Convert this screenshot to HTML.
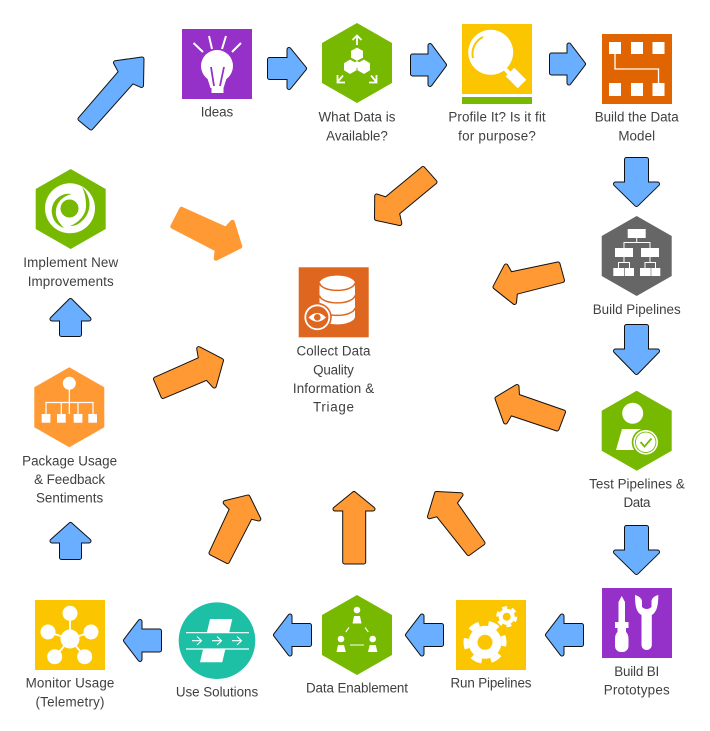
<!DOCTYPE html>
<html><head><meta charset="utf-8"><style>
html,body{margin:0;padding:0;background:#fff}
svg{display:block}
text{font-family:"Liberation Sans",sans-serif;font-size:13.4px;fill:#404040;text-anchor:middle}
</style></head><body>
<svg width="710" height="731" viewBox="0 0 710 731" xmlns="http://www.w3.org/2000/svg">
<defs>
<g id="bl">
<polygon points="80,119 120.500,72 115.500,62.700 142,59 141.500,85.500 132.500,81.500 91,128"/>
<polygon points="269.500,59.500 289,59.500 289,49.500 304.500,68.500 289,87.500 289,77.500 269.500,77.500"/>
<polygon points="412.500,56 430,56 430,45.500 444.500,65 430,84.500 430,74 412.500,74"/>
<polygon points="551.500,55 569,55 569,45 583.500,64 569,83 569,73 551.500,73"/>
<polygon points="626.500,159.500 646.500,159.500 646.500,184 657.500,184 636.500,204.500 615.500,184 626.500,184"/>
<polygon points="626.500,326.500 646.500,326.500 646.500,351 657.500,351 636.500,372.500 615.500,351 626.500,351"/>
<polygon points="626.500,527.500 646.500,527.500 646.500,552 657.500,552 636.500,572.500 615.500,552 626.500,552"/>
<polygon points="581.500,625.500 562,625.500 562,616 547.500,635 562,654 562,644.500 581.500,644.500"/>
<polygon points="441.500,625.500 422,625.500 422,616 407.500,635 422,654 422,644.500 441.500,644.500"/>
<polygon points="309.500,625.500 290,625.500 290,616 275.500,635 290,654 290,644.500 309.500,644.500"/>
<polygon points="159.500,631 140,631 140,621.500 125.500,640.500 140,659.500 140,650 159.500,650"/>
<polygon points="61.500,334.500 79.500,334.500 79.500,319 89,319 70.500,300.500 52,319 61.500,319"/>
<polygon points="61.500,557.500 79.500,557.500 79.500,541 89,541 70.500,524.500 52,541 61.500,541"/>
</g>
<g id="or">
<polygon points="423,168.500 435,182 397.500,213 399.800,223.500 376.500,218.500 376.700,196 386,199"/>
<polygon points="558,264 562.500,280.500 515.500,292.500 514.500,302.500 495,287 506,266 510.500,274"/>
<polygon points="563.500,412 557,429 510.500,413.500 505.500,422 497,398.500 517,386.500 517.500,396"/>
<polygon points="211,553 227.500,561.500 250.500,517 258.800,519 248,497 225.200,502.600 231.500,509"/>
<polygon points="344.700,562 363.700,562 363.700,509 373,509 354,493.500 335,509 344.700,509"/>
<polygon points="483,543 468.500,553.500 437.500,514.500 429.500,516.700 436.500,493.500 461,494.800 455,503"/>
<polygon points="155.500,379 163,396.500 207,378 214.300,386 221.500,360.500 198.700,348.600 200.500,359"/>
</g>
</defs>
<polygon points="181.500,209 172.500,226.500 217,249.500 216,258.500 240,246.500 232.500,222 226,229" fill="#ff9933" stroke="#ff9933" stroke-width="4.500" stroke-linejoin="round"/>
<use href="#bl" fill="#111" stroke="#111" stroke-width="5" stroke-linejoin="round"/>
<use href="#bl" fill="#6aaeff" stroke="#6aaeff" stroke-width="3" stroke-linejoin="round"/>
<use href="#or" fill="#111" stroke="#111" stroke-width="5" stroke-linejoin="round"/>
<use href="#or" fill="#ff9933" stroke="#ff9933" stroke-width="3" stroke-linejoin="round"/>

<!-- Ideas -->
<rect x="182" y="29" width="70" height="70" fill="#9530c8"/>
<path d="M193.500,43 L203,52 M209,36 L212,49 M226,36 L222,49 M241,43 L232,52" stroke="#fff" stroke-width="2" fill="none"/>
<circle cx="217" cy="66" r="16" fill="#fff"/>
<polygon points="206,74 228,74 223.500,88 210.500,88" fill="#fff"/>
<rect x="211.500" y="87" width="12" height="6" fill="#fff"/>
<path d="M211,67 L214,86 M224,67 L220,86" stroke="#9530c8" stroke-width="1.800" fill="none"/>

<!-- What data -->
<polygon points="357,23 392,43 392,83 357,103 322,83 322,43" fill="#76b900"/>
<g fill="#fff" stroke="#76b900" stroke-width="1">
<polygon points="357,47 363.500,50.500 363.500,58 357,61.500 350.500,58 350.500,50.500"/>
<polygon points="350,59 357,63 357,70.500 350,74.500 343.500,70.500 343.500,63"/>
<polygon points="364,59 370.500,63 370.500,70.500 364,74.500 357,70.500 357,63"/>
</g>
<polygon points="357,61 363,64.500 357,68 351,64.500" fill="#fff"/>
<path d="M357,45 V36 M352.500,40 L357,35.500 L361.500,40 M343,75.500 L337.500,82 M337.500,75 V82.500 H345 M371,75.500 L376.500,82 M376.500,75 V82.500 H369" stroke="#fff" stroke-width="1.800" fill="none"/>

<!-- Profile -->
<rect x="462" y="24" width="70" height="70" fill="#fbc500"/>
<rect x="462" y="97" width="70" height="7" fill="#76b900"/>
<circle cx="490.700" cy="52.300" r="22.500" fill="#fff"/>
<path d="M473,58 A18.500,18.500 0 0 1 483,37" stroke="#fbc500" stroke-width="2" fill="none"/>
<path d="M505,69 L512,76" stroke="#fff" stroke-width="4"/>
<path d="M510,72 L522,84" stroke="#fff" stroke-width="12"/>

<!-- Build data model -->
<rect x="602" y="34" width="70" height="70" fill="#e06500"/>
<g fill="#fff">
<rect x="609" y="42" width="12" height="12"/><rect x="631" y="42" width="12" height="12"/><rect x="652.500" y="42" width="12" height="12"/>
<rect x="609" y="83" width="12" height="13"/><rect x="631" y="83" width="12" height="13"/><rect x="652.500" y="83" width="12" height="13"/>
</g>
<path d="M615,54 V69 H658.500 V83" stroke="#fff" stroke-width="1.300" fill="none"/>

<!-- Build pipelines -->
<polygon points="636.700,216 671.700,236 671.700,276 636.700,296 601.700,276 601.700,236" fill="#666"/>
<g fill="#fff">
<rect x="627.700" y="229" width="18" height="9"/>
<rect x="615" y="248" width="18" height="9"/><rect x="641" y="248" width="18" height="9"/>
<rect x="613.300" y="268" width="11" height="8"/><rect x="625" y="268" width="9" height="8"/><rect x="640" y="268" width="10.700" height="8"/><rect x="651.300" y="268" width="9" height="8"/>
</g>
<path d="M636.700,238 V242.500 M624,248 V242.500 H650 V248 M624,257 V262.500 M618.500,268 V262.500 H629.500 V268 M650,257 V262.500 M645,268 V262.500 H655.500 V268" stroke="#fff" stroke-width="1" fill="none"/>

<!-- Test pipelines -->
<polygon points="636.700,390.700 671.700,410.700 671.700,450.700 636.700,470.700 601.700,450.700 601.700,410.700" fill="#76b900"/>
<circle cx="632.700" cy="413.300" r="10.500" fill="#fff"/>
<polygon points="622,429 645,429 647,450 616,450" fill="#fff"/>
<circle cx="645.700" cy="442.300" r="14" fill="#76b900"/>
<circle cx="645.700" cy="442.300" r="12.300" fill="#fff"/>
<circle cx="645.700" cy="442.300" r="10.700" fill="#76b900"/>
<circle cx="645.700" cy="442.300" r="9.800" fill="#fff"/>
<path d="M640.500,442 L644.500,446.500 L651.500,438.500" stroke="#76b900" stroke-width="1.800" fill="none"/>

<!-- Build BI -->
<rect x="602" y="588" width="70" height="70" fill="#9530c8"/>
<g fill="#fff">
<polygon points="621.700,596 625,602 625,622 618.500,622 618.500,602"/>
<path d="M615,622 H628.500 V628 H626 V632 C628,634 628.500,636 628.500,640 V646 A6,6 0 0 1 622.500,652 H621 A6,6 0 0 1 615,646 V640 C615,636 615.500,634 617.500,632 V628 H615 Z"/>
<path d="M635,595 C635,605 636,612 641.500,615 V645.500 A5.200,5.200 0 0 0 651.800,645.500 V615 C657,612 658.300,605 658.300,595 C654.500,596 652,598 651.500,601 V607 Q646.700,611 642,607 V601 C641.500,598 638.500,596 635,595 Z"/>
</g>

<!-- Run pipelines -->
<rect x="456" y="600" width="70" height="70" fill="#fbc500"/>
<circle cx="485" cy="642.300" r="16.500" fill="#fff"/>
<circle cx="485" cy="642.300" r="19" fill="none" stroke="#fff" stroke-width="5" stroke-dasharray="10.500 9.400" transform="rotate(-20 485 642.300)"/>
<circle cx="485" cy="642.300" r="7.500" fill="#fbc500"/>
<circle cx="506.700" cy="616.700" r="8" fill="#fff"/>
<circle cx="506.700" cy="616.700" r="9.200" fill="none" stroke="#fff" stroke-width="2.800" stroke-dasharray="5 4.630"/>
<circle cx="506.700" cy="616.700" r="4" fill="#fbc500"/>

<!-- Data enablement -->
<polygon points="357,595 392,615 392,655 357,675 322,655 322,615" fill="#76b900"/>
<g fill="#fff">
<circle cx="357" cy="610" r="3.300"/><polygon points="354,616 360,616 361.500,623.500 352.500,623.500"/>
<circle cx="341" cy="639" r="3.300"/><polygon points="338,645 344,645 345.800,652 336.500,652"/>
<circle cx="372.700" cy="639" r="3.300"/><polygon points="369.700,645 375.700,645 377.400,652 368,652"/>
</g>
<path d="M345.700,632 L349,627.500 M365,627.500 L368.300,632 M350,645 H364" stroke="#fff" stroke-width="1.100" fill="none"/>

<!-- Use solutions -->
<circle cx="217" cy="640.700" r="38.300" fill="#1dbfa5"/>
<polygon points="210,619 232.300,619 222.300,662.300 200,662.300" fill="#fff"/>
<rect x="186" y="633" width="63" height="16" fill="#1dbfa5"/>
<path d="M186,632.700 H249 M186,649 H249" stroke="#fff" stroke-width="1.200"/>
<g stroke="#fff" stroke-width="1.100" fill="none">
<path d="M192,640.700 H201 M197,636.500 L201.500,640.700 L197,645"/>
<path d="M212,640.700 H221 M217,636.500 L221.500,640.700 L217,645"/>
<path d="M232,640.700 H241 M237,636.500 L241.500,640.700 L237,645"/>
</g>

<!-- Monitor usage -->
<rect x="35" y="600" width="70" height="70" fill="#fbc500"/>
<path d="M70,639 L70,613 M70,639 L48,632 M70,639 L91,632 M70,639 L55,657 M70,639 L85,657" stroke="#fff" stroke-width="1.800"/>
<g fill="#fff">
<circle cx="70" cy="639" r="9.500"/>
<circle cx="70" cy="613.300" r="7.500"/><circle cx="48" cy="632" r="7.500"/><circle cx="91" cy="632" r="7.500"/>
<circle cx="54.700" cy="656.700" r="7.500"/><circle cx="84.700" cy="656.700" r="7.500"/>
</g>

<!-- Implement -->
<polygon points="70.700,169 105.700,189 105.700,229 70.700,249 35.700,229 35.700,189" fill="#76b900"/>
<circle cx="70" cy="208.300" r="25" fill="#fff"/>
<circle cx="69.500" cy="208.500" r="9" fill="#76b900"/>
<path d="M72,194 C60,192 50,202 52,214 C53,221 58,226 64,228 C58,222 55,216 56,210 C57,202 63,196 72,194 Z" fill="#76b900"/>
<path d="M82,187 C92,197 92,212 82,221 C78,225 74,226 70,226 C80,222 86,214 86,206 C86,199 85,193 82,187 Z" fill="#76b900"/>

<!-- Package -->
<polygon points="69.300,367.300 104.300,387.300 104.300,427.300 69.300,447.300 34.300,427.300 34.300,387.300" fill="#ff9933"/>
<circle cx="69.300" cy="383.300" r="6.500" fill="#fff"/>
<path d="M69.300,389 V414 M46,414 V402.500 H93 V414 M61.300,402.500 V414 M78,402.500 V414" stroke="#fff" stroke-width="1.200" fill="none"/>
<g fill="#fff">
<rect x="41.700" y="414" width="8.700" height="8.700"/><rect x="57" y="414" width="8.700" height="8.700"/><rect x="73.700" y="414" width="8.700" height="8.700"/><rect x="88.300" y="414" width="8.700" height="8.700"/>
</g>

<!-- Collect -->
<rect x="298.700" y="267.300" width="70" height="70" fill="#de661f"/>
<path d="M319.500,283 A17.800,8 0 0 1 355,283 V317 A17.800,8 0 0 1 319.500,317 Z" fill="#fff"/>
<path d="M319.500,283 A17.800,8 0 0 0 355,283 M319.500,295.500 A17.800,8 0 0 0 355,295.500 M319.500,308 A17.800,8 0 0 0 355,308" stroke="#de661f" stroke-width="1.500" fill="none"/>
<circle cx="317.300" cy="317.300" r="14.500" fill="#de661f"/>
<circle cx="317.300" cy="317.300" r="12" fill="none" stroke="#fff" stroke-width="1.800"/>
<path d="M308.500,317.500 Q317.300,308.500 326,317.500 Q317.300,326 308.500,317.500 Z" fill="#fff"/>
<circle cx="317.300" cy="317.300" r="3.300" fill="#de661f"/>

<!-- Labels -->
<text x="217" y="116.700" textLength="32.500">Ideas</text>
<text x="357" y="121.700" textLength="77">What Data is</text>
<text x="357" y="140.700" textLength="61.700">Available?</text>
<text x="497" y="121.700" textLength="97.300">Profile It? Is it fit</text>
<text x="497" y="140.500" textLength="77.700">for purpose?</text>
<text x="636.700" y="121.700" textLength="84">Build the Data</text>
<text x="636.700" y="140.500" textLength="36.700">Model</text>
<text x="636.700" y="314" textLength="88">Build Pipelines</text>
<text x="637" y="488.300" textLength="95.700">Test Pipelines &amp;</text>
<text x="637" y="507" textLength="27">Data</text>
<text x="636.700" y="676" textLength="45">Build BI</text>
<text x="636.700" y="694.500" textLength="66">Prototypes</text>
<text x="491" y="687.700" textLength="81">Run Pipelines</text>
<text x="357" y="692.300" textLength="102">Data Enablement</text>
<text x="217" y="696.700" textLength="82.300">Use Solutions</text>
<text x="70" y="687.700" textLength="88.700">Monitor Usage</text>
<text x="70" y="706.700" textLength="69">(Telemetry)</text>
<text x="69.600" y="465.300" textLength="95">Package Usage</text>
<text x="69.600" y="484" textLength="71">&amp; Feedback</text>
<text x="69.600" y="502.700" textLength="67.300">Sentiments</text>
<text x="70.700" y="267" textLength="95">Implement New</text>
<text x="70.700" y="286" textLength="86">Improvements</text>
<text x="333.500" y="355.700" textLength="74">Collect Data</text>
<text x="333.500" y="374.500" textLength="40.700">Quality</text>
<text x="333.500" y="393" textLength="81.300">Information &amp;</text>
<text x="333.500" y="411.700" textLength="41">Triage</text>
</svg>
</body></html>
